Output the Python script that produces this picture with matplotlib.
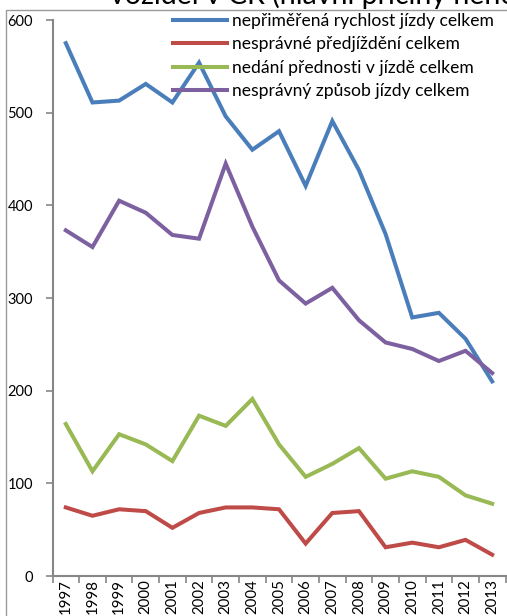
import numpy as np
from matplotlib import pyplot as plt
from matplotlib.patches import Rectangle

plt.rcParams['font.family'] = ['Lato', 'DejaVu Sans']

years = [str(y) for y in range(1997, 2014)]

# hlavni priciny nehod
rychlost = [575, 511, 513, 531, 511, 554, 496, 460, 480, 421, 491, 438, 369, 279, 284, 256, 210]
predjizdeni = [74, 65, 72, 70, 52, 68, 74, 74, 72, 35, 68, 70, 31, 36, 31, 39, 23]
prednost = [164, 113, 153, 142, 124, 173, 162, 191, 142, 107, 121, 138, 105, 113, 107, 87, 78]
zpusob = [373, 355, 405, 392, 368, 364, 445, 377, 319, 294, 311, 276, 252, 245, 232, 243, 219]

labels = ['nepřiměřená rychlost jízdy celkem',
          'nesprávné předjíždění celkem',
          'nedání přednosti v jízdě celkem',
          'nesprávný způsob jízdy celkem']
colors = ['#4a7ebb', '#be4b48', '#98b954', '#7d60a0']

fig = plt.figure(figsize=(5.07, 6.16), dpi=100)

# outer chart frame (cropped)
fig.patches.append(Rectangle((6 / 507, -0.1), 2, 1.1 - 10 / 616,
                             transform=fig.transFigure, fill=False,
                             edgecolor='#9a9a9a', linewidth=1))
fig.text(110 / 507, 1 - 4 / 616, 'vozidel v ČR (hlavní příčiny nehod)',
         fontsize=20.5, va='baseline', ha='left')

ax = fig.add_axes([52.5 / 507, 1 - 576 / 616, 453 / 507, 556 / 616])
x = np.arange(len(years))
series = [rychlost, predjizdeni, prednost, zpusob]
for s, lab, c in zip(series, labels, colors):
    ax.plot(x, s, color=c, linewidth=2.9, label=lab, solid_joinstyle='miter')

ax.set_xlim(-0.5, len(years) - 0.5)
ax.set_ylim(0, 600)
ax.set_yticks(range(0, 601, 100))
ax.set_xticks(x)
ax.set_xticklabels(years, rotation=90, fontsize=10.8)
ax.set_xticks(np.arange(-0.5, len(years), 1), minor=True)
ax.tick_params(axis='x', which='major', length=0, pad=2)
ax.tick_params(axis='x', which='minor', length=5, color='#868686', width=1.2)
ax.tick_params(axis='y', length=5, color='#868686', width=1.2, pad=9, labelsize=10.5)

for side in ['top', 'right']:
    ax.spines[side].set_visible(False)
for side in ['left', 'bottom']:
    ax.spines[side].set_color('#868686')
    ax.spines[side].set_linewidth(1.5)

ax.legend(loc='upper right', bbox_to_anchor=(0.99, 1.025), frameon=False,
          fontsize=12.6, handlelength=3.1, handletextpad=0.3, labelspacing=0.42,
          borderaxespad=0)

plt.savefig('out.png', dpi=100)
